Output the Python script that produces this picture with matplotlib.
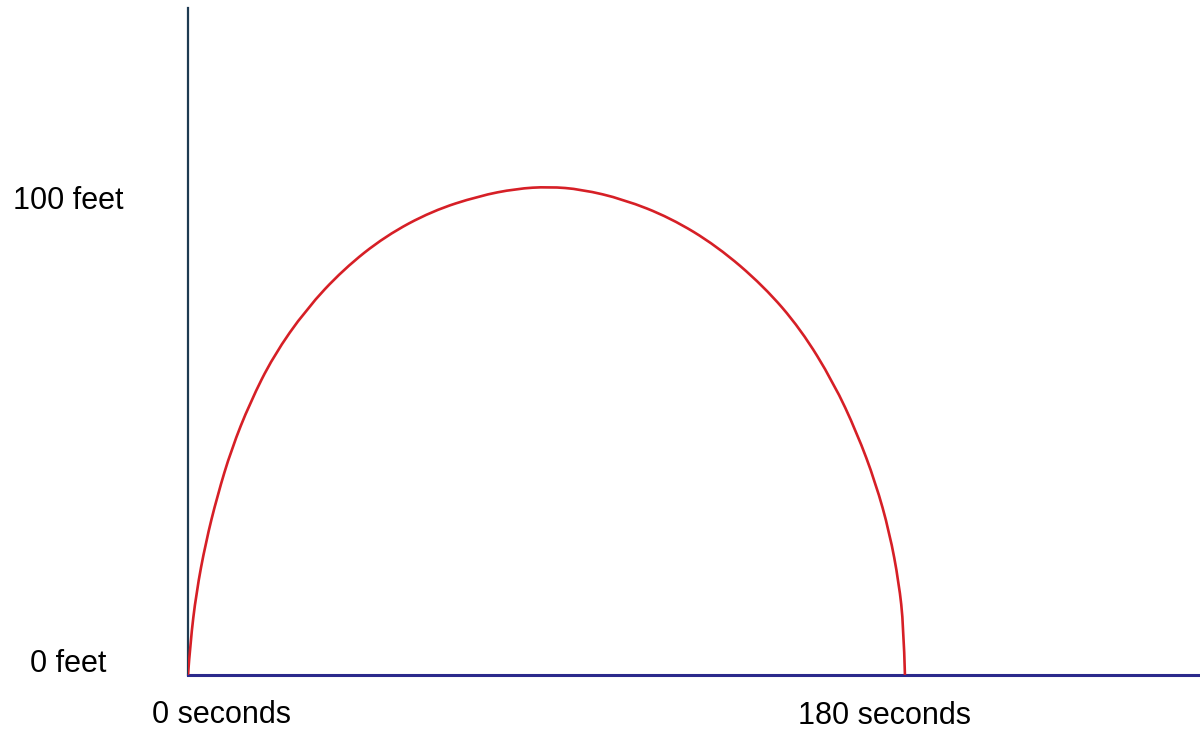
import matplotlib
matplotlib.use("Agg")
import matplotlib.pyplot as plt
from matplotlib.path import Path
from matplotlib.patches import PathPatch

# height of the ball (feet) against time (seconds)
time_s = [0, 0.58, 2.08, 4.44, 7.36, 10.9, 15.57, 21.44, 29.65, 39.02, 49.56,
          61.29, 73.01, 82.38, 90.58, 98.79, 109.34, 121.06, 132.78, 144.51,
          153.87, 162.08, 167.93, 172.63, 176.14, 178.48, 179.66, 180]
height_ft = [0, 6.77, 17.25, 27.74, 37.53, 47.32, 57.09, 66.88, 76.67, 85.05,
             92.03, 97.27, 100.42, 101.95, 102.37, 101.82, 99.73, 95.87, 89.94,
             81.55, 72.47, 61.28, 50.8, 40.31, 29.83, 19.35, 10.27, 0]

y_labels = ["100 feet", "0 feet"]
x_labels = ["0 seconds", "180 seconds"]

W, H = 1200, 732
fig = plt.figure(figsize=(12, 7.32), dpi=100)
ax = fig.add_axes([188 / W, (H - 675) / H, 1 - 188 / W, (675 - 8) / H])

# smooth the polyline: quadratic bezier segments with the read points as controls
pts = list(zip(time_s, height_ft))
verts = [pts[0]]
codes = [Path.MOVETO]
for i in range(1, len(pts) - 1):
    nxt = pts[i + 1] if i == len(pts) - 2 else (
        (pts[i][0] + pts[i + 1][0]) / 2, (pts[i][1] + pts[i + 1][1]) / 2)
    verts += [pts[i], nxt]
    codes += [Path.CURVE3, Path.CURVE3]
ax.add_patch(PathPatch(Path(verts, codes), facecolor="none", edgecolor="#d61f26",
                       lw=1.9, capstyle="butt", zorder=3))

ax.set_xlim(0, (W - 188) / 3.983)
ax.set_ylim(0, (675 - 8) / 4.77)
ax.set_xticks([])
ax.set_yticks([])
for s in ["top", "right"]:
    ax.spines[s].set_visible(False)
ax.spines["left"].set_color("#1e3b52")
ax.spines["left"].set_linewidth(1.6)
ax.spines["bottom"].set_color("#2b2a8c")
ax.spines["bottom"].set_linewidth(2.2)

font = dict(family="Liberation Sans", fontsize=22, color="black")
fig.text(68 / W, 1 - 209 / H, y_labels[0], ha="center", va="baseline", **font)
fig.text(68 / W, 1 - 672 / H, y_labels[1], ha="center", va="baseline", **font)
fig.text(222 / W, 1 - 723 / H, x_labels[0], ha="center", va="baseline", **font)
fig.text(884 / W, 1 - 724 / H, x_labels[1], ha="center", va="baseline", **font)

fig.savefig("out.png", dpi=100, facecolor="white")
